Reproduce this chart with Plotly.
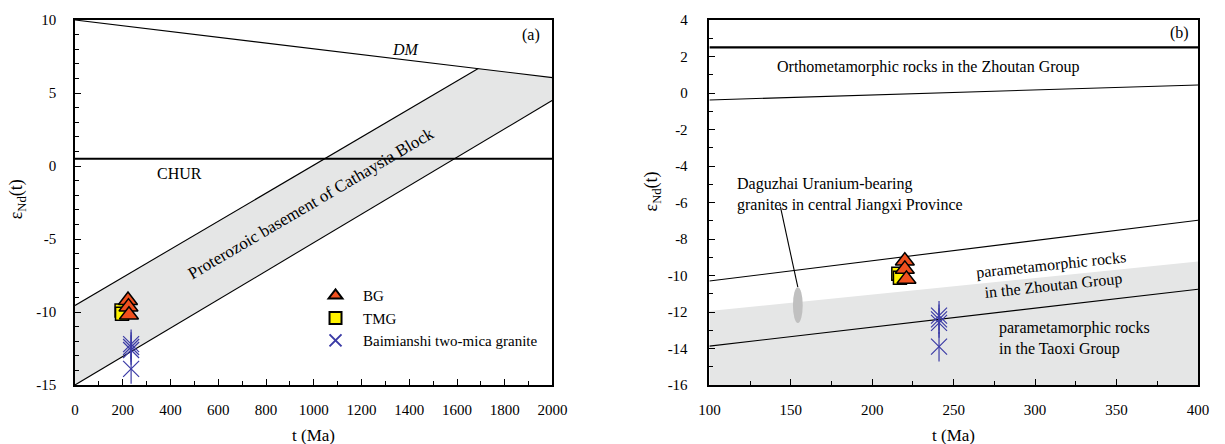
import plotly.graph_objects as go

# ---------------- Panel (a): t (Ma) vs eNd(t) ----------------
dm_t = [0, 2000]
dm_e = [10.0, 6.05]
cath_upper_t = [0, 1689]
cath_upper_e = [-9.55, 6.68]
cath_lower_t = [0, 2000]
cath_lower_e = [-15.0, 4.5]
chur_t = [0, 2000]
chur_e = [0.5, 0.5]

# samples (eNd values shared, t read per panel)
bg_e = [-9.2, -9.65, -10.2]
tmg_e = [-9.9, -10.12]
bms_e = [-12.2, -12.4, -12.6, -13.9]
bg_t_a = [222, 224, 226]
tmg_t_a = [195, 197]
bms_t_a = [235, 235, 235, 235]
bg_t_b = [220, 220, 221]
tmg_t_b = [216, 217]
bms_t_b = [241, 241, 241, 241]

# ---------------- Panel (b) ----------------
b_t = [100, 400]
ortho_top_e = [2.5, 2.5]
ortho_low_e = [-0.38, 0.44]
zt_line_e = [-10.3, -6.97]
zt_field_top_e = [-11.95, -9.23]
field_bottom_e = [-16, -16]
tx_line_e = [-13.87, -10.75]
dgz_center = (154.3, -11.62)
dgz_size = (6.0, 1.96)
dgz_leader_t = [143.6, 154.3]
dgz_leader_e = [-6.23, -10.64]

# ticks
xa_ticks = list(range(0, 2001, 200))
ya_ticks = [-15, -10, -5, 0, 5, 10]
xb_ticks = list(range(100, 401, 50))
yb_ticks = list(range(-16, 5, 2))

FONT = "Liberation Serif, Times New Roman, serif"
GRAY = "#e5e6e6"
BLUE = "#3b3ba6"
ORANGE = "#f0501e"
YELLOW = "#fff200"

fig = go.Figure()

# ---- panel a band ----
band_t = cath_lower_t + [dm_t[1], cath_upper_t[1]] + cath_upper_t[::-1][1:]
band_e = cath_lower_e + [dm_e[1], cath_upper_e[1]] + cath_upper_e[::-1][1:]
fig.add_trace(go.Scatter(x=band_t, y=band_e, fill="toself", fillcolor=GRAY,
                         mode="none", showlegend=False, xaxis="x", yaxis="y"))
for tx, ey, w in [(dm_t, dm_e, 1.1), (cath_upper_t, cath_upper_e, 1.1),
                  (cath_lower_t, cath_lower_e, 1.1), (chur_t, chur_e, 2.0)]:
    fig.add_trace(go.Scatter(x=tx, y=ey, mode="lines", line=dict(color="black", width=w),
                             showlegend=False, xaxis="x", yaxis="y"))

# ---- panel b field ----
fig.add_trace(go.Scatter(x=b_t + b_t[::-1], y=field_bottom_e + zt_field_top_e[::-1],
                         fill="toself", fillcolor=GRAY, mode="none", showlegend=False,
                         xaxis="x2", yaxis="y2"))
for ey, w in [(ortho_top_e, 2.2), (ortho_low_e, 1.1), (zt_line_e, 1.1), (tx_line_e, 1.1)]:
    fig.add_trace(go.Scatter(x=b_t, y=ey, mode="lines", line=dict(color="black", width=w),
                             showlegend=False, xaxis="x2", yaxis="y2"))
fig.add_trace(go.Scatter(x=dgz_leader_t, y=dgz_leader_e, mode="lines",
                         line=dict(color="black", width=1.1), showlegend=False,
                         xaxis="x2", yaxis="y2"))
fig.add_shape(type="circle", xref="x2", yref="y2",
              x0=dgz_center[0] - dgz_size[0] / 2, x1=dgz_center[0] + dgz_size[0] / 2,
              y0=dgz_center[1] - dgz_size[1] / 2, y1=dgz_center[1] + dgz_size[1] / 2,
              fillcolor="#c0c0c0", line=dict(width=0), layer="above")

# ---- sample markers ----
def add_samples(xs, ys, tmg_t, bg_t, bms_t, showleg):
    fig.add_trace(go.Scatter(x=tmg_t, y=tmg_e, mode="markers", name="TMG",
                             marker=dict(symbol="square", size=13, color=YELLOW,
                                         line=dict(color="black", width=1.5)),
                             showlegend=False, xaxis=xs, yaxis=ys))
    fig.add_trace(go.Scatter(x=bg_t, y=bg_e, mode="markers", name="BG",
                             marker=dict(symbol="triangle-up", size=16.5, color=ORANGE,
                                         line=dict(color="black", width=1.5)),
                             showlegend=showleg, legendrank=1, xaxis=xs, yaxis=ys))
    if showleg:
        fig.add_trace(go.Scatter(x=[None], y=[None], mode="markers", name="TMG",
                                 marker=dict(symbol="square", size=13, color=YELLOW,
                                             line=dict(color="black", width=1.5)),
                                 showlegend=True, legendrank=2, xaxis=xs, yaxis=ys))
    fig.add_trace(go.Scatter(x=bms_t, y=bms_e, mode="markers",
                             marker=dict(symbol="line-ns-open", size=21, color=BLUE,
                                         line=dict(color=BLUE, width=1.2)),
                             showlegend=False, xaxis=xs, yaxis=ys))
    fig.add_trace(go.Scatter(x=bms_t, y=bms_e, mode="markers",
                             name="Baimianshi two-mica granite",
                             marker=dict(symbol="x-thin-open", size=16, color=BLUE,
                                         line=dict(color=BLUE, width=1.2)),
                             showlegend=showleg, legendrank=3, xaxis=xs, yaxis=ys))

add_samples("x", "y", tmg_t_a, bg_t_a, bms_t_a, True)
add_samples("x2", "y2", tmg_t_b, bg_t_b, bms_t_b, False)

axis_common = dict(showline=True, mirror=True, linecolor="black", linewidth=1.5,
                   ticks="inside", ticklen=6, tickwidth=1, tickcolor="black",
                   showgrid=False, zeroline=False,
                   tickfont=dict(family=FONT, size=15, color="black"))

fig.update_layout(
    width=1225, height=444,
    margin=dict(l=75, r=17, t=18, b=59),
    paper_bgcolor="white", plot_bgcolor="white",
    font=dict(family=FONT, color="black"),
    xaxis=dict(domain=[0, 0.4252], range=[0, 2000], anchor="y",
               tickmode="array", tickvals=xa_ticks, ticktext=[str(v) for v in xa_ticks],
               ticklabelstandoff=10,
               minor=dict(ticks="inside", ticklen=4, dtick=100, tick0=0, tickcolor="black"),
               **axis_common),
    yaxis=dict(domain=[0, 1], range=[-15, 10], anchor="x",
               tickmode="array", tickvals=ya_ticks, ticktext=[str(v) for v in ya_ticks],
               ticklabelstandoff=14,
               minor=dict(ticks="inside", ticklen=4, dtick=1, tick0=0, tickcolor="black"),
               **axis_common),
    xaxis2=dict(domain=[0.5649, 1], range=[100, 400], anchor="y2",
                tickmode="array", tickvals=xb_ticks, ticktext=[str(v) for v in xb_ticks],
                ticklabelstandoff=10,
                minor=dict(ticks="inside", ticklen=4, dtick=25, tick0=100, tickcolor="black"),
                **axis_common),
    yaxis2=dict(domain=[0, 1], range=[-16, 4], anchor="x2",
                tickmode="array", tickvals=yb_ticks, ticktext=[str(v) for v in yb_ticks],
                ticklabelstandoff=17,
                minor=dict(ticks="inside", ticklen=4, dtick=1, tick0=0, tickcolor="black"),
                **axis_common),
    legend=dict(x=0.2075, y=0.29, xanchor="left", yanchor="top",
                bgcolor="rgba(0,0,0,0)", itemwidth=45, itemsizing="constant",
                tracegroupgap=0, font=dict(family=FONT, size=15, color="black")),
)

ann = []
def txt(text, x, y, xref, yref, size=16, xanchor="center", yanchor="middle", **kw):
    d = dict(text=text, x=x, y=y, xref=xref, yref=yref, showarrow=False,
             xanchor=xanchor, yanchor=yanchor,
             font=dict(family=FONT, size=size, color="black"))
    d.update(kw)
    ann.append(d)

# panel a labels
txt("CHUR", 437, -0.5, "x", "y")
txt("<i>DM</i>", 1387, 7.95, "x", "y")
txt("(a)", 1910, 8.98, "x", "y")
txt("Proterozoic basement of Cathaysia Block", 988, -2.57, "x", "y", size=17,
    textangle=-30.5)

# panel b labels
txt("(b)", 388.5, 3.27, "x2", "y2")
txt("Orthometamorphic rocks in the Zhoutan Group", 234.4, 1.45, "x2", "y2")
txt("Daguzhai Uranium-bearing<br>granites in central Jiangxi Province", 115.6, -5.58,
    "x2", "y2", xanchor="left", align="left")
txt("parametamorphic rocks<br>in the Zhoutan Group", 310.6, -10.02, "x2", "y2",
    textangle=-6)
txt("parametamorphic rocks<br>in the Taoxi Group", 276.5, -13.45, "x2", "y2",
    xanchor="left", align="left")

# axis titles
txt("t (Ma)", 0.2126, -0.139, "paper", "paper", size=17)
txt("t (Ma)", 0.7825, -0.139, "paper", "paper", size=17)
txt("ε<sub>Nd</sub>(t)", -0.0515, 0.5095, "paper", "paper", size=18, textangle=-90)
txt("ε<sub>Nd</sub>(t)", 0.514, 0.531, "paper", "paper", size=18, textangle=-90)

fig.update_layout(annotations=ann)
fig.write_html("out.html")
